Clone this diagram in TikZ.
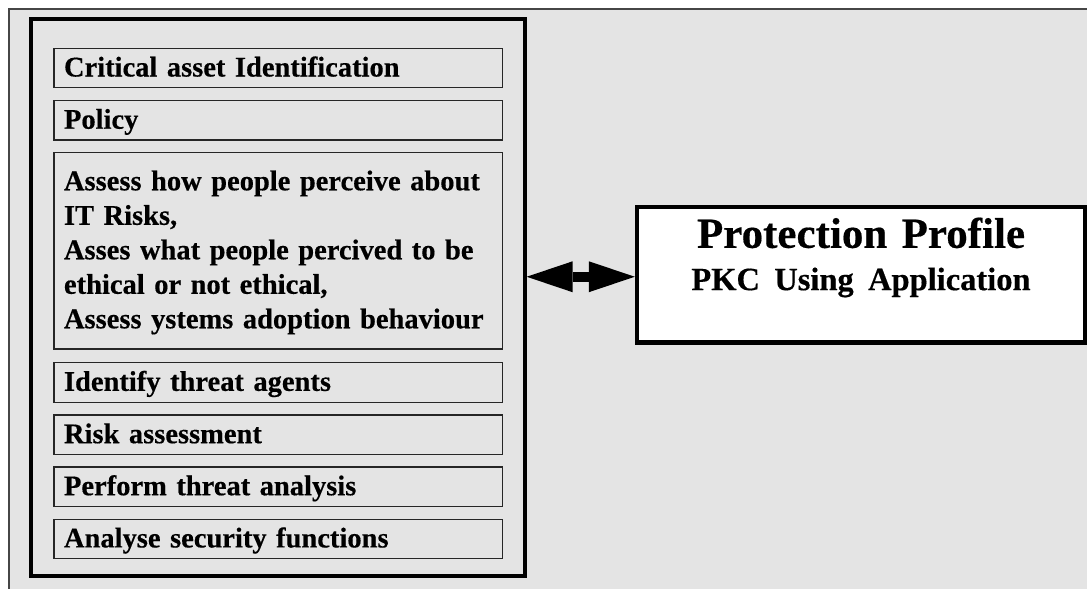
\documentclass[tikz,border=0pt]{standalone}
\usepackage{fontspec}
\setmainfont{Liberation Serif}[BoldFeatures={FakeBold=0.4}]
\usetikzlibrary{arrows.meta}
\definecolor{panelgray}{RGB}{228,228,228}
\definecolor{framegray}{RGB}{70,70,70}
% struts that fix the baseline position inside the step boxes
\newcommand{\stepTop}{\rule{0pt}{23pt}}
\newcommand{\stepBot}{\rule[-6pt]{0pt}{6pt}}
\begin{document}
\begin{tikzpicture}[x=1pt,y=-1pt,
  stepfont/.style={font=\bfseries\fontsize{28.5}{34.5}\selectfont},
  stepbox/.style={draw=black!85, line width=1.3pt, fill=panelgray,
    minimum width=448.7pt, minimum height=39.5pt, text width=428.7pt,
    inner xsep=10pt, inner ysep=1pt, align=left, stepfont},
  panelbox/.style={draw=black, line width=4pt, fill=panelgray, inner sep=0pt},
  profilebox/.style={draw=black, line width=4.5pt, fill=white, inner sep=0pt,
    text width=440pt, align=center, font=\bfseries\fontsize{43}{42.3}\selectfont},
  linkarrow/.style={line width=10pt,
    {Triangle[length=46pt,width=31pt,line width=0pt]}-{Triangle[length=46pt,width=31pt,line width=0pt]}}
]
\useasboundingbox (0,0) rectangle (1087,589);
\clip (0,0) rectangle (1087,589);
\fill[white] (0,0) rectangle (1087,589);
% outer frame (runs off the right and bottom edges)
\draw[framegray, line width=1.5pt, fill=panelgray] (9,9) rectangle (1130,640);

% left panel holding the steps
\node[panelbox, minimum width=493.7pt, minimum height=556.5pt] (panel) at (277.85,297.25) {};

\node[stepbox] (asset)  at (278.35,68)    {\stepTop\stepBot Critical asset Identification};
\node[stepbox] (policy) at (278.35,120.3) {\stepTop\stepBot Policy};
\node[stepbox, minimum height=196.3pt] (assess) at (278.35,250.85)
  {\stepTop Assess how people perceive about\\
   IT Risks,\\
   Asses what people percived to be\\
   ethical or not ethical,\\
   Assess ystems adoption behaviour\stepBot};
\node[stepbox] (agents) at (278.35,382.5) {\stepTop\stepBot Identify threat agents};
\node[stepbox] (risk)   at (278.35,434.7) {\stepTop\stepBot Risk assessment};
\node[stepbox] (threat) at (278.35,486.8) {\stepTop\stepBot Perform threat analysis};
\node[stepbox] (funcs)  at (278.35,539)   {\stepTop\stepBot Analyse security functions};

% protection profile box
\node[profilebox, minimum width=448pt, minimum height=135.5pt] (pp) at (861,274.75)
  {\rule{0pt}{30pt}Protection Profile\\
   \fontsize{32.5}{42.3}\selectfont PKC Using Application\rule[-41.8pt]{0pt}{41.8pt}};

% two-way link between the panel and the profile
\draw[linkarrow] ([yshift=-2pt]pp.west) -- ([yshift=-2pt]pp.west -| panel.east);
\end{tikzpicture}
\end{document}
